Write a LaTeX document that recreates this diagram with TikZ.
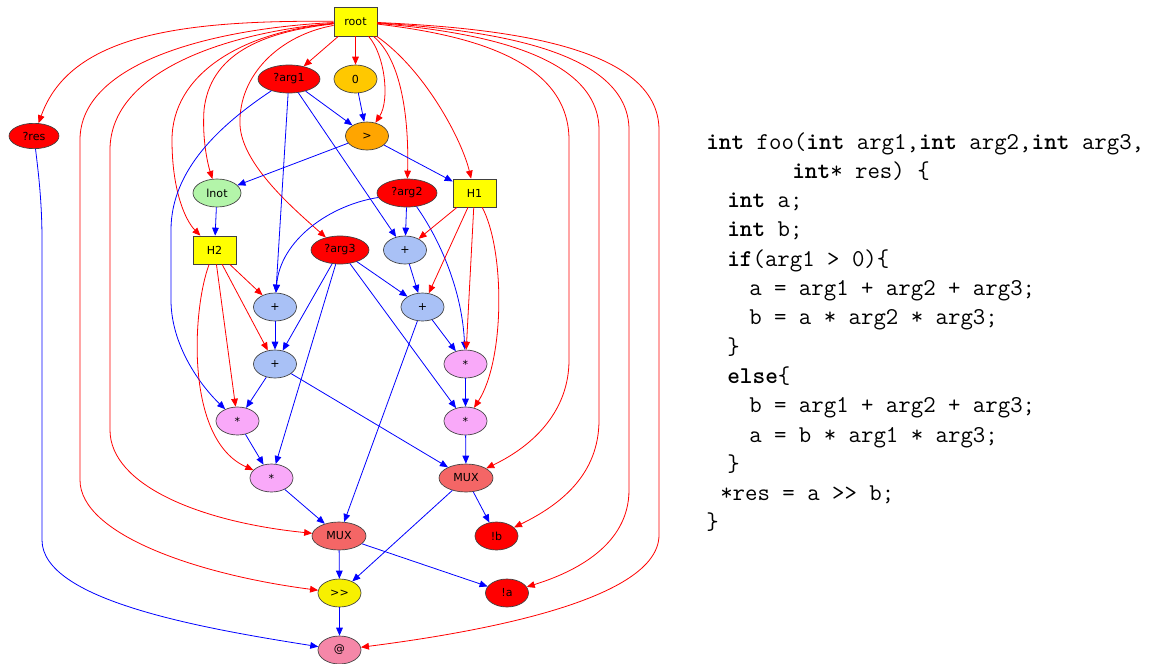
\documentclass[tikz,border=0pt]{standalone}
\usepackage{fontspec}
\setsansfont{DejaVu Sans}
\usetikzlibrary{shapes.geometric,arrows.meta}
\definecolor{cRed}{HTML}{FF0000}
\definecolor{cBlue}{HTML}{0000FF}
\definecolor{fRed}{HTML}{FF0000}
\definecolor{fYel}{HTML}{FFFF00}
\definecolor{fZero}{HTML}{FFC800}
\definecolor{fGt}{HTML}{FFA500}
\definecolor{fNot}{HTML}{B3F5A9}
\definecolor{fPlus}{HTML}{A9C1F6}
\definecolor{fStar}{HTML}{F9A9F9}
\definecolor{fMux}{HTML}{F46666}
\definecolor{fShr}{HTML}{F7F000}
\definecolor{fAt}{HTML}{F587A8}
\begin{document}
\begin{tikzpicture}[x=0.75pt,y=-0.75pt,
  nd/.style={draw=black!75,line width=0.5pt,font=\sffamily\fontsize{8.3}{10}\selectfont,inner sep=0pt,text=black},
  ell/.style={nd,ellipse,minimum height=21pt},
  sm/.style={ell,minimum width=32.25pt},
  bx/.style={nd,rectangle,minimum width=32.25pt,minimum height=21pt},
  arr/.style={line width=0.6pt,-{Triangle[length=6pt,width=5pt]}},
  re/.style={arr,draw=cRed},
  be/.style={arr,draw=cBlue},
  code/.style={anchor=base west,inner sep=0pt,font=\ttfamily\fontsize{18.1}{22}\selectfont}
]
\useasboundingbox (0,0) rectangle (1150,664);

% nodes
\node[bx,fill=fYel,minimum height=21.75pt] (root) at (355.5,21.5) {root};
\node[ell,fill=fRed,minimum width=46.5pt] (arg1) at (289,79) {?arg1};
\node[sm,fill=fZero] (zero) at (355.5,79) {0};
\node[sm,fill=fGt] (gt) at (367,136) {>};
\node[ell,fill=fRed,minimum width=37.5pt,minimum height=19pt] (res) at (34,136) {?res};
\node[ell,fill=fNot,minimum width=36pt] (lnot) at (217,193) {lnot};
\node[ell,fill=fRed,minimum width=45pt] (arg2) at (407,193) {?arg2};
\node[bx,fill=fYel] (H1) at (474.5,193) {H1};
\node[bx,fill=fYel] (H2) at (214.5,250) {H2};
\node[ell,fill=fRed,minimum width=43.5pt] (arg3) at (340,250) {?arg3};
\node[sm,fill=fPlus] (pA) at (405,250) {+};
\node[sm,fill=fPlus] (pL) at (275,307) {+};
\node[sm,fill=fPlus] (pR) at (422.5,307) {+};
\node[sm,fill=fPlus] (pLL) at (275,364) {+};
\node[sm,fill=fStar] (sRU) at (465.5,364) {*};
\node[sm,fill=fStar] (sL) at (237.5,421) {*};
\node[sm,fill=fStar] (sRL) at (465.5,421) {*};
\node[sm,fill=fStar] (sLL) at (271.5,478) {*};
\node[ell,fill=fMux,minimum width=40.5pt] (muxR) at (466,478) {MUX};
\node[ell,fill=fMux,minimum width=40.5pt] (muxL) at (339,536) {MUX};
\node[sm,fill=fRed] (nb) at (496.5,536) {!b};
\node[sm,fill=fShr] (shr) at (339.5,593) {>{}>};
\node[sm,fill=fRed] (na) at (507,593) {!a};
\node[sm,fill=fAt] (at) at (339.5,650) {@};

% red edges from root
\draw[re] (root) .. controls (180,20) and (70,35) .. (res);
\draw[re] (root) -- (arg1);
\draw[re] (root) -- (zero);
\draw[re] (root) .. controls (385,55) and (390,100) .. (gt);
\draw[re] (root) .. controls (402,60) and (409,120) .. (arg2);
\draw[re] (root) .. controls (425,70) and (462,140) .. (H1);
\draw[re] (root) .. controls (260,32) and (210,55) .. (204,110) .. controls (202,140) and (208,165) .. (lnot);
\draw[re] (root) .. controls (240,32) and (172,75) .. (172,140) .. controls (172,190) and (185,220) .. (H2);
\draw[re] (root) .. controls (280,35) and (238,75) .. (240,125) .. controls (242,165) and (295,210) .. (arg3);
\draw[re] (root) .. controls (230,32) and (110,70) .. (110,150) -- (110,430) .. controls (110,485) and (200,522) .. (muxL);
\draw[re] (root) .. controls (220,28) and (80,60) .. (80,140) -- (80,480) .. controls (80,535) and (200,575) .. (shr);
\draw[re] (root) .. controls (470,35) and (569,60) .. (569,140) -- (569,360) .. controls (569,410) and (535,445) .. (muxR);
\draw[re] (root) .. controls (480,32) and (599,55) .. (599,130) -- (599,420) .. controls (599,475) and (560,505) .. (nb);
\draw[re] (root) .. controls (490,30) and (629,50) .. (629,130) -- (629,490) .. controls (629,545) and (575,572) .. (na);
\draw[re] (root) .. controls (500,28) and (659,45) .. (659,130) -- (659,535) .. controls (659,600) and (480,632) .. (at);

% other edges
\draw[be] (arg1) -- (gt);
\draw[be] (zero) -- (gt);
\draw[be] (gt) -- (lnot);
\draw[be] (gt) -- (H1);
\draw[be] (arg1) -- (pL);
\draw[be] (arg1) -- (pA);
\draw[be] (arg1) .. controls (220,125) and (171,170) .. (171,230) -- (171,300) .. controls (171,345) and (200,385) .. (sL);
\draw[be] (arg2) -- (pA);
\draw[be] (arg2) .. controls (330,205) and (280,240) .. (pL);
\draw[be] (arg2) .. controls (440,240) and (462,290) .. (sRU);
\draw[be] (pA) -- (pR);
\draw[re] (H1) -- (pA);
\draw[re] (H1) -- (pR);
\draw[re] (H1) -- (sRU);
\draw[re] (H1) .. controls (505,250) and (505,360) .. (sRL);
\draw[be] (lnot) -- (H2);
\draw[re] (H2) -- (pL);
\draw[re] (H2) -- (pLL);
\draw[re] (H2) -- (sL);
\draw[re] (H2) .. controls (192,310) and (185,440) .. (sLL);
\draw[be] (arg3) -- (pR);
\draw[be] (arg3) -- (pLL);
\draw[be] (arg3) -- (sLL);
\draw[be] (arg3) -- (sRL);
\draw[be] (pR) -- (sRU);
\draw[be] (pR) -- (muxL);
\draw[be] (pL) -- (pLL);
\draw[be] (pLL) -- (sL);
\draw[be] (pLL) -- (muxR);
\draw[be] (sRU) -- (sRL);
\draw[be] (sRL) -- (muxR);
\draw[be] (sL) -- (sLL);
\draw[be] (sLL) -- (muxL);
\draw[be] (muxR) -- (nb);
\draw[be] (muxR) -- (shr);
\draw[be] (muxL) -- (shr);
\draw[be] (muxL) -- (na);
\draw[be] (shr) -- (at);
\draw[be] (res) .. controls (38,170) and (42,200) .. (42,240) -- (42,540) .. controls (42,600) and (200,628) .. (at);

% code
\node[code] (c1) at (706,149) {\textbf{int} foo(\textbf{int} arg1,\textbf{int} arg2,\textbf{int} arg3,};
\node[code] (c2) at (792,178.3) {\textbf{int}* res) \{};
\node[code] (c3) at (727,207.6) {\textbf{int} a;};
\node[code] (c4) at (727,236.9) {\textbf{int} b;};
\node[code] (c5) at (727,266.2) {\textbf{if}(arg1 > 0)\{};
\node[code] (c6) at (749,295.5) {a = arg1 + arg2 + arg3;};
\node[code] (c7) at (749,324.8) {b = a * arg2 * arg3;};
\node[code] (c8) at (727,354.1) {\}};
\node[code] (c9) at (727,383.4) {\textbf{else}\{};
\node[code] (c10) at (749,412.7) {b = arg1 + arg2 + arg3;};
\node[code] (c11) at (749,442) {a = b * arg1 * arg3;};
\node[code] (c12) at (727,471.3) {\}};
\node[code] (c13) at (720,500.6) {*res = a >{}> b;};
\node[code] (c14) at (706,529.9) {\}};
\end{tikzpicture}
\end{document}
